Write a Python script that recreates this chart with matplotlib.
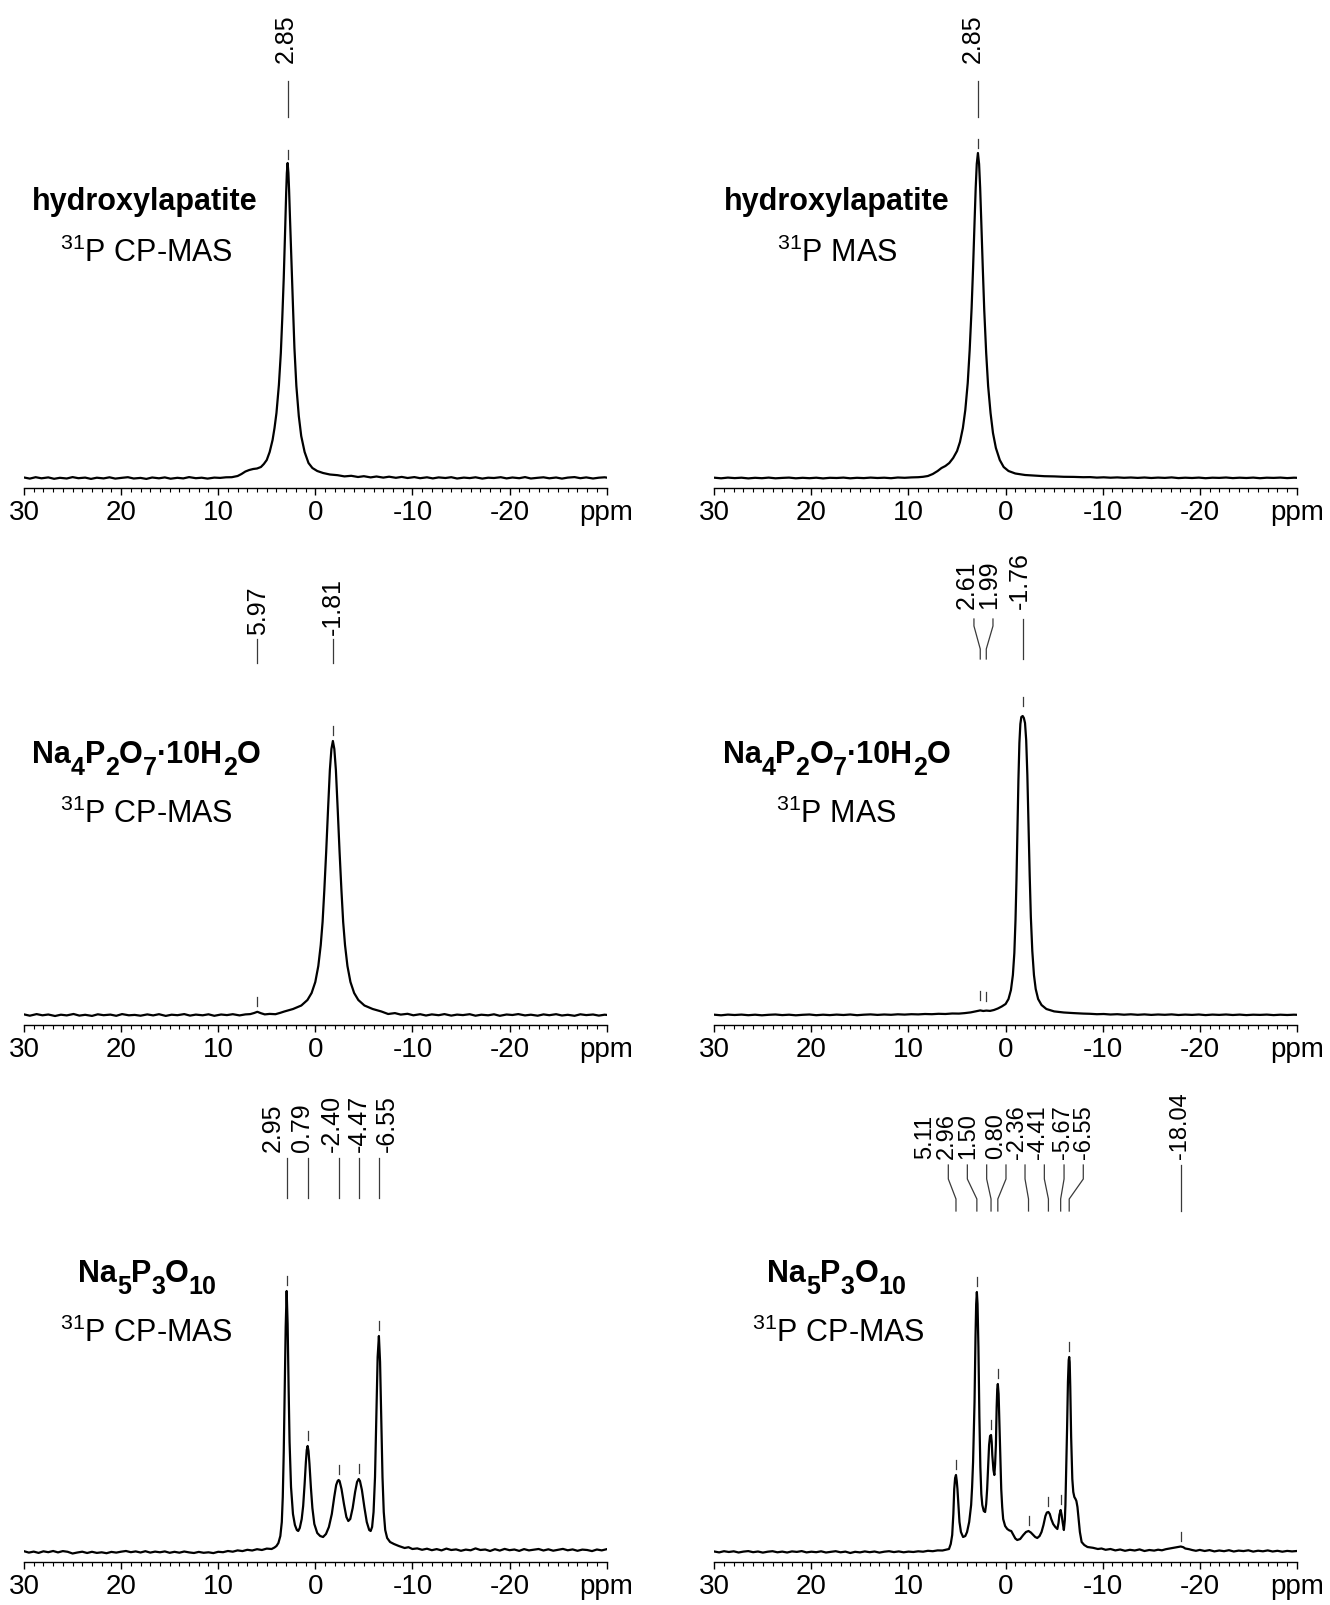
import matplotlib
matplotlib.use("Agg")
import numpy as np
import matplotlib.pyplot as plt
from matplotlib.ticker import FixedLocator, MultipleLocator
from matplotlib.transforms import ScaledTranslation

plt.rcParams['font.family'] = ['Liberation Sans', 'DejaVu Sans']
plt.rcParams['mathtext.fontset'] = 'custom'
plt.rcParams['mathtext.rm'] = 'Liberation Sans'
plt.rcParams['mathtext.it'] = 'Liberation Sans:italic'
plt.rcParams['mathtext.bf'] = 'Liberation Sans:bold'

# 31P spectra as (ppm, intensity) pairs, intensity in arbitrary units
hap_cp = [(30.0, 0.5), (29.4, -0.6), (28.8, 0.8), (28.2, -0.3), (27.5, 0.6), (26.9, -0.8), (26.3, 0.2), (25.6, -0.5),
          (25.0, 0.9), (24.4, -0.2), (23.7, 0.4), (23.1, -0.9), (22.5, 0.3), (21.8, -0.4), (21.2, 0.7), (20.6, -0.6),
          (19.9, 0.2), (19.3, 0.8), (18.7, -0.5), (18.0, 0.1), (17.4, -0.9), (16.8, 0.5), (16.1, -0.3), (15.5, 0.6),
          (14.9, -0.7), (14.2, 0.2), (13.6, -0.4), (13.0, 0.9), (12.3, -0.2), (11.7, 0.3), (11.1, -0.6), (10.4, 0.4),
          (9.8, 0.1), (9.2, 0.7), (8.6, 0.8), (8.0, 2.0), (7.6, 4.0), (7.2, 6.5), (6.8, 8.0), (6.4, 9.0), (6.0, 9.5),
          (5.6, 11.0), (5.3, 14.0), (5.0, 18.0), (4.7, 26.0), (4.4, 38.0), (4.2, 50.0), (4.0, 65.0), (3.75, 93.0),
          (3.55, 125.0), (3.4, 160.0), (3.25, 200.0), (3.1, 250.0), (3.0, 285.0), (2.93, 305.0), (2.85, 315.0),
          (2.77, 305.0), (2.7, 288.0), (2.6, 258.0), (2.45, 215.0), (2.3, 172.0), (2.15, 130.0), (1.95, 92.0),
          (1.7, 62.0), (1.45, 42.0), (1.1, 26.0), (0.7, 15.0), (0.3, 10.0), (-0.2, 7.0), (-0.8, 5.0), (-1.5, 3.5),
          (-2.3, 2.8), (-3.0, 1.6), (-3.7, 2.2), (-4.4, 1.0), (-5.0, 1.8), (-5.7, 0.6), (-6.3, 1.5), (-7.0, 0.4),
          (-7.6, 1.3), (-8.3, 0.2), (-8.9, 1.1), (-9.5, 0.0), (-10.2, 0.9), (-10.8, -0.2), (-11.5, 0.7), (-12.1, -0.4),
          (-12.7, 0.6), (-13.4, 0.0), (-14.0, 0.8), (-14.6, -0.5), (-15.3, 0.4), (-15.9, -0.1), (-16.5, 0.7),
          (-17.2, -0.6), (-17.8, 0.3), (-18.4, 0.0), (-19.1, 0.8), (-19.7, -0.4), (-20.3, 0.5), (-21.0, -0.2),
          (-21.6, 0.9), (-22.2, -0.5), (-22.9, 0.2), (-23.5, 0.7), (-24.1, -0.3), (-24.8, 0.5), (-25.4, -0.6),
          (-26.0, 0.4), (-26.7, 0.9), (-27.3, -0.2), (-27.9, 0.6), (-28.6, -0.5), (-29.2, 0.3), (-29.8, 0.7),
          (-30.0, 0.4)]

hap_mas = [(30.0, 0.3), (29.3, -0.3), (28.6, 0.4), (27.9, -0.1), (27.2, 0.3), (26.5, -0.4), (25.8, 0.2), (25.1, -0.2),
           (24.4, 0.4), (23.7, -0.3), (23.0, 0.1), (22.3, 0.4), (21.6, -0.3), (20.9, 0.2), (20.2, -0.2), (19.5, 0.3),
           (18.8, -0.4), (18.1, 0.2), (17.4, 0.0), (16.7, 0.4), (16.0, -0.3), (15.3, 0.2), (14.6, -0.1), (13.9, 0.4),
           (13.2, 0.0), (12.5, 0.3), (11.8, -0.2), (11.1, 0.5), (10.4, 0.2), (9.7, 0.6), (9.0, 0.8), (8.5, 1.2),
           (8.0, 2.0), (7.5, 4.0), (7.0, 7.0), (6.6, 10.0), (6.2, 12.0), (5.8, 15.0), (5.4, 20.0), (5.0, 27.0),
           (4.7, 36.0), (4.4, 50.0), (4.15, 68.0), (3.9, 95.0), (3.7, 128.0), (3.5, 170.0), (3.35, 210.0),
           (3.2, 255.0), (3.08, 290.0), (2.97, 314.0), (2.85, 325.0), (2.73, 314.0), (2.62, 290.0), (2.5, 255.0),
           (2.35, 210.0), (2.2, 168.0), (2.0, 125.0), (1.8, 92.0), (1.55, 65.0), (1.3, 45.0), (1.0, 30.0),
           (0.6, 18.0), (0.2, 11.0), (-0.3, 7.0), (-1.0, 4.5), (-2.0, 3.0), (-3.0, 2.4), (-4.0, 1.8), (-5.0, 1.6),
           (-6.0, 1.2), (-7.0, 1.1), (-8.0, 0.8), (-8.7, 0.9), (-9.4, 0.4), (-10.1, 0.7), (-10.8, 0.3), (-11.5, 0.6),
           (-12.2, 0.2), (-12.9, 0.5), (-13.6, 0.1), (-14.3, 0.5), (-15.0, 0.0), (-15.7, 0.4), (-16.4, 0.1),
           (-17.1, 0.6), (-17.8, -0.1), (-18.5, 0.3), (-19.2, 0.0), (-19.9, 0.4), (-20.6, -0.2), (-21.3, 0.3),
           (-22.0, 0.1), (-22.7, 0.5), (-23.4, -0.1), (-24.1, 0.3), (-24.8, 0.0), (-25.5, 0.4), (-26.2, -0.2),
           (-26.9, 0.3), (-27.6, 0.1), (-28.3, 0.4), (-29.0, -0.1), (-29.7, 0.3), (-30.0, 0.2)]

pyro_cp = [(30.0, 0.6), (29.4, -0.7), (28.7, 0.9), (28.1, -0.3), (27.5, 0.5), (26.8, -1.0), (26.2, 0.3), (25.6, -0.4),
           (24.9, 1.0), (24.3, -0.6), (23.7, 0.2), (23.0, -0.9), (22.4, 0.7), (21.8, -0.2), (21.1, 0.4), (20.5, -0.8),
           (19.9, 0.9), (19.2, -0.3), (18.6, 0.1), (18.0, -0.7), (17.3, 0.6), (16.7, -0.4), (16.1, 0.8), (15.4, -0.9),
           (14.8, 0.3), (14.2, -0.2), (13.5, 0.9), (12.9, -0.6), (12.3, 0.4), (11.6, -0.3), (11.0, 0.7), (10.4, -0.8),
           (9.7, 0.5), (9.1, -0.1), (8.5, 0.8), (7.8, -0.4), (7.2, 0.6), (6.7, 0.9), (6.3, 2.0), (5.97, 3.2),
           (5.6, 1.8), (5.2, 0.6), (4.7, 1.1), (4.1, 0.8), (3.6, 2.2), (3.19, 3.5), (2.29, 6.0), (1.44, 9.5),
           (0.81, 15.0), (0.38, 22.0), (0.0, 33.0), (-0.31, 49.0), (-0.56, 70.0), (-0.75, 93.0), (-0.93, 125.0),
           (-1.12, 163.0), (-1.31, 205.0), (-1.5, 245.0), (-1.66, 266.0), (-1.81, 274.0), (-1.96, 266.0),
           (-2.12, 245.0), (-2.31, 205.0), (-2.5, 163.0), (-2.69, 125.0), (-2.87, 93.0), (-3.06, 70.0),
           (-3.31, 49.0), (-3.62, 33.0), (-4.0, 22.0), (-4.43, 15.0), (-5.06, 9.5), (-5.91, 6.0), (-6.81, 3.5),
           (-7.5, 1.0), (-8.2, 1.9), (-8.8, 0.4), (-9.5, 1.2), (-10.1, -0.3), (-10.8, 0.8), (-11.4, -0.5),
           (-12.0, 0.6), (-12.7, -0.2), (-13.3, 0.9), (-14.0, -0.6), (-14.6, 0.4), (-15.2, -0.1), (-15.9, 0.8),
           (-16.5, -0.7), (-17.1, 0.3), (-17.8, -0.3), (-18.4, 0.7), (-19.0, -0.8), (-19.7, 0.5), (-20.3, 0.0),
           (-20.9, 0.9), (-21.6, -0.4), (-22.2, 0.3), (-22.9, -0.7), (-23.5, 0.6), (-24.1, -0.2), (-24.8, 0.8),
           (-25.4, -0.5), (-26.0, 0.2), (-26.7, -0.8), (-27.3, 0.7), (-27.9, -0.1), (-28.6, 0.5), (-29.2, -0.6),
           (-29.8, 0.3), (-30.0, 0.1)]

pyro_mas = [(30.0, 0.3), (29.3, -0.3), (28.6, 0.4), (27.9, 0.0), (27.2, 0.4), (26.5, -0.2), (25.8, 0.3), (25.1, -0.3),
            (24.4, 0.2), (23.7, 0.5), (23.0, -0.1), (22.3, 0.3), (21.6, -0.3), (20.9, 0.2), (20.2, 0.5), (19.5, -0.2),
            (18.8, 0.3), (18.1, -0.1), (17.4, 0.4), (16.7, 0.0), (16.0, 0.5), (15.3, -0.2), (14.6, 0.3), (13.9, 0.6),
            (13.2, 0.1), (12.5, 0.5), (11.8, 0.2), (11.1, 0.7), (10.4, 0.4), (9.7, 0.8), (9.0, 0.6), (8.3, 1.0),
            (7.6, 0.8), (6.9, 1.2), (6.2, 1.0), (5.5, 1.5), (4.8, 1.4), (4.2, 1.9), (3.6, 2.6), (3.1, 3.6),
            (2.61, 4.6), (2.3, 4.0), (1.99, 4.4), (1.6, 4.1), (1.2, 5.0), (0.8, 6.5), (0.4, 8.5), (0.0, 11.0),
            (-0.3, 16.0), (-0.55, 25.0), (-0.75, 40.0), (-0.9, 62.0), (-1.02, 95.0), (-1.12, 135.0), (-1.22, 185.0),
            (-1.32, 235.0), (-1.42, 272.0), (-1.52, 291.0), (-1.62, 298.0), (-1.76, 299.0), (-1.88, 297.0),
            (-2.0, 292.0), (-2.12, 275.0), (-2.24, 240.0), (-2.36, 190.0), (-2.48, 140.0), (-2.6, 98.0),
            (-2.75, 64.0), (-2.92, 40.0), (-3.1, 26.0), (-3.35, 16.0), (-3.7, 10.0), (-4.2, 6.0), (-5.0, 3.6),
            (-6.0, 2.5), (-7.0, 1.9), (-8.0, 1.4), (-8.7, 1.2), (-9.4, 0.8), (-10.1, 1.0), (-10.8, 0.5), (-11.5, 0.8),
            (-12.2, 0.3), (-12.9, 0.7), (-13.6, 0.2), (-14.3, 0.6), (-15.0, 0.1), (-15.7, 0.5), (-16.4, 0.2),
            (-17.1, 0.6), (-17.8, 0.0), (-18.5, 0.4), (-19.2, 0.1), (-19.9, 0.5), (-20.6, -0.1), (-21.3, 0.4),
            (-22.0, 0.1), (-22.7, 0.5), (-23.4, 0.0), (-24.1, 0.4), (-24.8, -0.1), (-25.5, 0.3), (-26.2, 0.1),
            (-26.9, 0.4), (-27.6, -0.1), (-28.3, 0.3), (-29.0, 0.0), (-29.7, 0.3), (-30.0, 0.2)]

tripoly_cp = [(30.0, 0.8), (29.5, -0.6), (29.0, 0.4), (28.5, -0.9), (28.0, 0.7), (27.5, -0.2), (27.0, 1.0), (26.5, -0.4),
              (26.0, 0.9), (25.5, 0.2), (25.0, -1.5), (24.5, -0.5), (24.0, 0.3), (23.5, -1.0), (23.0, 0.2),
              (22.5, -0.9), (22.0, -0.3), (21.5, -1.2), (21.0, 0.1), (20.5, -0.6), (20.0, 0.3), (19.5, 1.0),
              (19.0, -0.2), (18.5, 0.6), (18.0, -0.5), (17.5, 0.8), (17.0, -0.6), (16.5, 0.4), (16.0, -0.3),
              (15.5, 0.6), (15.0, -0.8), (14.5, 0.2), (14.0, -0.7), (13.5, 0.5), (13.0, -0.4), (12.5, -1.0),
              (12.0, 0.1), (11.5, -0.8), (11.0, -0.3), (10.5, -1.1), (10.0, 0.2), (9.5, -0.2), (9.0, 1.0), (8.5, 0.3),
              (8.0, 1.6), (7.5, 0.9), (7.0, 2.2), (6.5, 1.5), (6.0, 2.8), (5.5, 2.0), (5.0, 3.4), (4.5, 3.0),
              (4.2, 4.5), (4.0, 6.0), (3.8, 9.0), (3.6, 16.0), (3.45, 30.0), (3.35, 55.0), (3.25, 100.0),
              (3.15, 160.0), (3.05, 225.0), (2.95, 261.0), (2.85, 228.0), (2.75, 165.0), (2.65, 110.0), (2.5, 65.0),
              (2.3, 38.0), (2.1, 27.0), (1.9, 22.0), (1.76, 21.0), (1.6, 24.0), (1.4, 33.0), (1.25, 46.0),
              (1.1, 68.0), (0.97, 90.0), (0.88, 102.0), (0.79, 106.0), (0.7, 101.0), (0.6, 88.0), (0.45, 64.0),
              (0.3, 44.0), (0.1, 28.0), (-0.2, 19.0), (-0.5, 16.0), (-0.8, 15.0), (-1.1, 18.0), (-1.4, 25.0),
              (-1.7, 38.0), (-1.95, 55.0), (-2.15, 67.0), (-2.3, 71.0), (-2.4, 72.0), (-2.5, 71.0), (-2.7, 63.0),
              (-2.95, 48.0), (-3.2, 35.0), (-3.4, 31.0), (-3.6, 33.0), (-3.85, 44.0), (-4.1, 60.0), (-4.3, 70.0),
              (-4.47, 73.0), (-4.6, 71.0), (-4.8, 62.0), (-5.05, 45.0), (-5.3, 30.0), (-5.55, 22.0), (-5.7, 21.0),
              (-5.85, 25.0), (-6.0, 40.0), (-6.15, 75.0), (-6.3, 140.0), (-6.42, 195.0), (-6.55, 216.0),
              (-6.67, 190.0), (-6.8, 130.0), (-6.92, 75.0), (-7.05, 40.0), (-7.2, 22.0), (-7.4, 14.0), (-7.7, 10.0),
              (-8.1, 8.0), (-8.6, 6.0), (-9.2, 4.0), (-9.6, 4.8), (-10.0, 3.0), (-10.5, 3.6), (-11.0, 2.2),
              (-11.5, 3.3), (-12.0, 1.8), (-12.5, 2.9), (-13.0, 1.6), (-13.5, 3.4), (-14.0, 2.0), (-14.5, 2.6),
              (-15.0, 1.2), (-15.5, 2.4), (-16.0, 1.7), (-16.5, 3.6), (-17.0, 2.0), (-17.5, 2.5), (-18.0, 1.0),
              (-18.5, 2.8), (-19.0, 1.4), (-19.5, 3.1), (-20.0, 1.8), (-20.5, 2.5), (-21.0, 1.1), (-21.5, 2.9),
              (-22.0, 1.6), (-22.5, 2.3), (-23.0, 3.0), (-23.5, 1.5), (-24.0, 2.7), (-24.5, 1.3), (-25.0, 2.2),
              (-25.5, 3.1), (-26.0, 1.7), (-26.5, 2.6), (-27.0, 1.2), (-27.5, 2.4), (-28.0, 2.0), (-28.5, 0.9),
              (-29.0, 2.5), (-29.5, 1.6), (-30.0, 2.8)]

tripoly_mas = [(30.0, 0.5), (29.5, -0.4), (29.0, 0.8), (28.5, 0.0), (28.0, 0.7), (27.5, -0.5), (27.0, 0.4), (26.5, 0.9),
               (26.0, -0.2), (25.5, 0.5), (25.0, -0.6), (24.5, 0.3), (24.0, 0.8), (23.5, -0.3), (23.0, 0.4),
               (22.5, -0.5), (22.0, 0.6), (21.5, 0.1), (21.0, 0.9), (20.5, -0.4), (20.0, 0.3), (19.5, -0.2),
               (19.0, 0.7), (18.5, -0.5), (18.0, 0.2), (17.5, 0.8), (17.0, -0.3), (16.5, 0.4), (16.0, -1.0),
               (15.5, 0.2), (15.0, -0.4), (14.5, 0.6), (14.0, -0.2), (13.5, 0.5), (13.0, -0.6), (12.5, 0.3),
               (12.0, 0.8), (11.5, -0.1), (11.0, 0.6), (10.5, -0.3), (10.0, 0.4), (9.5, 0.0), (9.0, 0.7), (8.5, 0.3),
               (8.0, 1.2), (7.5, 0.8), (7.0, 1.6), (6.5, 1.5), (6.2, 2.2), (5.83, 3.0), (5.65, 8.0), (5.5, 17.0),
               (5.38, 38.0), (5.29, 63.0), (5.2, 74.0), (5.11, 77.0), (5.03, 71.0), (4.96, 63.0), (4.85, 45.0),
               (4.75, 30.0), (4.6, 20.0), (4.38, 15.0), (4.15, 16.0), (3.97, 20.0), (3.75, 30.0), (3.55, 47.0),
               (3.45, 65.0), (3.35, 90.0), (3.2, 150.0), (3.1, 215.0), (3.03, 248.0), (2.96, 260.0), (2.89, 248.0),
               (2.8, 205.0), (2.7, 135.0), (2.6, 85.0), (2.5, 58.0), (2.4, 47.0), (2.25, 41.0), (2.11, 40.0),
               (2.0, 48.0), (1.9, 63.0), (1.8, 85.0), (1.7, 107.0), (1.6, 116.0), (1.5, 117.0), (1.43, 110.0),
               (1.37, 97.0), (1.25, 82.0), (1.16, 77.0), (1.08, 88.0), (1.0, 107.0), (0.92, 145.0), (0.86, 163.0),
               (0.8, 168.0), (0.72, 158.0), (0.62, 123.0), (0.52, 88.0), (0.45, 63.0), (0.35, 45.0), (0.25, 33.0),
               (0.05, 26.0), (-0.17, 23.0), (-0.4, 21.5), (-0.58, 21.0), (-0.8, 17.0), (-1.0, 13.5), (-1.2, 12.0),
               (-1.5, 13.0), (-1.82, 17.0), (-2.1, 20.0), (-2.36, 21.0), (-2.6, 19.5), (-2.85, 17.0), (-3.05, 15.0),
               (-3.26, 14.0), (-3.5, 16.0), (-3.7, 20.0), (-3.9, 27.0), (-4.1, 36.0), (-4.25, 39.5), (-4.41, 40.0),
               (-4.55, 38.0), (-4.7, 33.0), (-4.9, 28.0), (-5.12, 25.0), (-5.33, 23.0), (-5.45, 29.0), (-5.54, 37.0),
               (-5.67, 42.0), (-5.77, 37.0), (-5.87, 30.0), (-6.0, 22.0), (-6.1, 32.0), (-6.16, 47.0), (-6.25, 85.0),
               (-6.33, 123.0), (-6.42, 170.0), (-6.5, 192.0), (-6.55, 195.0), (-6.6, 190.0), (-6.66, 165.0),
               (-6.75, 115.0), (-6.87, 73.0), (-6.97, 60.0), (-7.08, 55.0), (-7.2, 53.0), (-7.29, 51.0),
               (-7.4, 45.0), (-7.52, 33.0), (-7.65, 20.0), (-7.83, 10.0), (-8.1, 7.0), (-8.43, 5.0), (-9.0, 4.2),
               (-9.5, 3.0), (-9.88, 3.5), (-10.3, 2.2), (-10.8, 3.0), (-11.3, 1.6), (-11.8, 2.5), (-12.3, 1.2),
               (-12.8, 2.2), (-13.3, 1.5), (-13.8, 2.6), (-14.3, 1.0), (-14.8, 2.0), (-15.3, 1.4), (-15.7, 2.3),
               (-16.1, 1.7), (-16.5, 2.8), (-16.9, 3.5), (-17.3, 4.2), (-17.7, 5.0), (-18.04, 5.5), (-18.3, 4.8),
               (-18.5, 3.5), (-18.9, 2.8), (-19.2, 2.0), (-19.6, 1.2), (-20.0, 2.1), (-20.5, 1.0), (-21.0, 1.9),
               (-21.5, 0.6), (-22.0, 1.5), (-22.5, 0.8), (-23.0, 1.8), (-23.5, 0.5), (-24.0, 1.4), (-24.5, 0.9),
               (-25.0, 1.7), (-25.5, 0.4), (-26.0, 1.3), (-26.5, 0.7), (-27.0, 1.6), (-27.5, 0.5), (-28.0, 1.2),
               (-28.5, 0.3), (-29.0, 1.1), (-29.5, 0.6), (-30.0, 1.0)]

# picked peak positions (ppm)
hap_cp_peaks = [2.85]
hap_mas_peaks = [2.85]
pyro_cp_peaks = [5.97, -1.81]
pyro_mas_peaks = [2.61, 1.99, -1.76]
tripoly_cp_peaks = [2.95, 0.79, -2.40, -4.47, -6.55]
tripoly_mas_peaks = [5.11, 2.96, 1.50, 0.80, -2.36, -4.41, -5.67, -6.55, -18.04]

ppm_ticks = [30, 20, 10, 0, -10, -20, -30]
ppm_tick_labels = ['30', '20', '10', '0', '-10', '-20', 'ppm']

# formulas as (text, is_subscript) pieces
hap_title = [('hydroxylapatite', False)]
pyro_title = [('Na', False), ('4', True), ('P', False), ('2', True), ('O', False), ('7', True),
              ('·10H', False), ('2', True), ('O', False)]
tripoly_title = [('Na', False), ('5', True), ('P', False), ('3', True), ('O', False), ('10', True)]

W, H = 1330, 1606
fig = plt.figure(figsize=(W / 100, H / 100), dpi=100)
renderer = fig.canvas.get_renderer()


def make_axes(col, row):
    x30 = [24.0, 714.3][col]
    y_axis = [489, 1026, 1563][row]
    ax = fig.add_axes([x30 / W, (H - y_axis) / H, 582.6 / W, 489 / H])
    ax.set_xlim(30, -30)
    ax.set_ylim(-10, 479)
    for side in ['left', 'right', 'top']:
        ax.spines[side].set_visible(False)
    ax.spines['bottom'].set_linewidth(1.0)
    ax.set_yticks([])
    ax.xaxis.set_major_locator(FixedLocator(ppm_ticks))
    ax.set_xticklabels(ppm_tick_labels)
    ax.xaxis.set_minor_locator(MultipleLocator(1))
    ax.tick_params(axis='x', which='major', direction='out', length=5, width=1.0, pad=3, labelsize=20)
    ax.tick_params(axis='x', which='minor', direction='out', length=2.8, width=0.8)
    ax.patch.set_visible(False)
    return ax


def formula(ax, x, y, pieces, size=22, sub_scale=0.82, drop=0.4):
    """Bold chemical formula centred at (x, y) with lowered subscripts."""
    items = []
    for s, is_sub in pieces:
        t = ax.text(x, y, s, fontsize=size * sub_scale if is_sub else size,
                    fontweight='bold', ha='left', va='baseline')
        items.append((t, is_sub, t.get_window_extent(renderer).width))
    offset = -sum(w for _, _, w in items) / 2
    for t, is_sub, w in items:
        dy = -drop * size if is_sub else 0
        t.set_transform(ax.transData + ScaledTranslation(offset / fig.dpi, dy / 72, fig.dpi_scale_trans))
        offset += w


def draw_panel(ax, spec, peaks, label_x, top_x, levels, gap, title, subtitle, title_xy, label_size=18):
    ppm = np.array([p for p, _ in spec])
    inten = np.array([v for _, v in spec])
    ax.plot(ppm, inten, color='black', lw=1.6, solid_joinstyle='round')

    # peak heights taken from the trace itself
    peak_h = np.interp(peaks, ppm[::-1], inten[::-1])
    y_text, y_top, y_k1, y_k2, y_bot = levels
    for p, h, lx, tx in zip(peaks, peak_h, label_x, top_x):
        ax.text(lx, y_text, f'{p:.2f}', rotation=90, ha='center', va='bottom',
                fontsize=label_size, clip_on=False)
        ax.plot([tx, tx, p, p], [y_top, y_k1, y_k2, y_bot], color='#3a3a3a', lw=0.9,
                clip_on=False)
        ax.plot([p, p], [h + gap, h + gap + 9], color='#3a3a3a', lw=0.9)

    tx, ty, sx, sy = title_xy
    formula(ax, tx, ty, title)
    ax.text(sx, sy, subtitle, ha='center', va='baseline', fontsize=22)


# hydroxylapatite
ax = make_axes(0, 0)
draw_panel(ax, hap_cp, hap_cp_peaks, [3.05], [2.85], (416, 397, 380, 380, 361), 4.5,
           hap_title, r'$^{31}$P CP-MAS', (17.6, 269, 17.4, 217))
ax = make_axes(1, 0)
draw_panel(ax, hap_mas, hap_mas_peaks, [3.4], [2.85], (416, 397, 380, 380, 361), 5,
           hap_title, r'$^{31}$P MAS', (17.4, 269, 17.3, 217))

# sodium pyrophosphate
ax = make_axes(0, 1)
draw_panel(ax, pyro_cp, pyro_cp_peaks, [5.90, -1.83], [5.97, -1.81], (381, 376, 364, 364, 352), 6,
           pyro_title, r'$^{31}$P CP-MAS', (17.4, 253, 17.4, 193))
ax = make_axes(1, 1)
draw_panel(ax, pyro_mas, pyro_mas_peaks, [3.98, 1.71, -1.48], [3.26, 1.30, -1.76],
           (407, 396, 389, 366, 356), 10,
           pyro_title, r'$^{31}$P MAS', (17.4, 253, 17.4, 193))

# sodium triphosphate
ax = make_axes(0, 2)
draw_panel(ax, tripoly_cp, tripoly_cp_peaks, [4.39, 1.40, -1.69, -4.53, -7.35],
           tripoly_cp_peaks, (401, 394, 374, 374, 354), 6,
           tripoly_title, r'$^{31}$P CP-MAS', (17.3, 271, 17.4, 211))
ax = make_axes(1, 2)
draw_panel(ax, tripoly_mas, tripoly_mas_peaks,
           [8.25, 6.05, 3.85, 0.95, -1.20, -3.35, -5.90, -8.10, -17.96],
           [5.90, 3.94, 1.95, -0.04, -2.00, -3.99, -6.02, -8.00, -18.04],
           (394, 387, 373, 353, 341), 6,
           tripoly_title, r'$^{31}$P CP-MAS', (17.4, 271, 17.2, 211), label_size=17)

fig.savefig('out.png', dpi=100)
